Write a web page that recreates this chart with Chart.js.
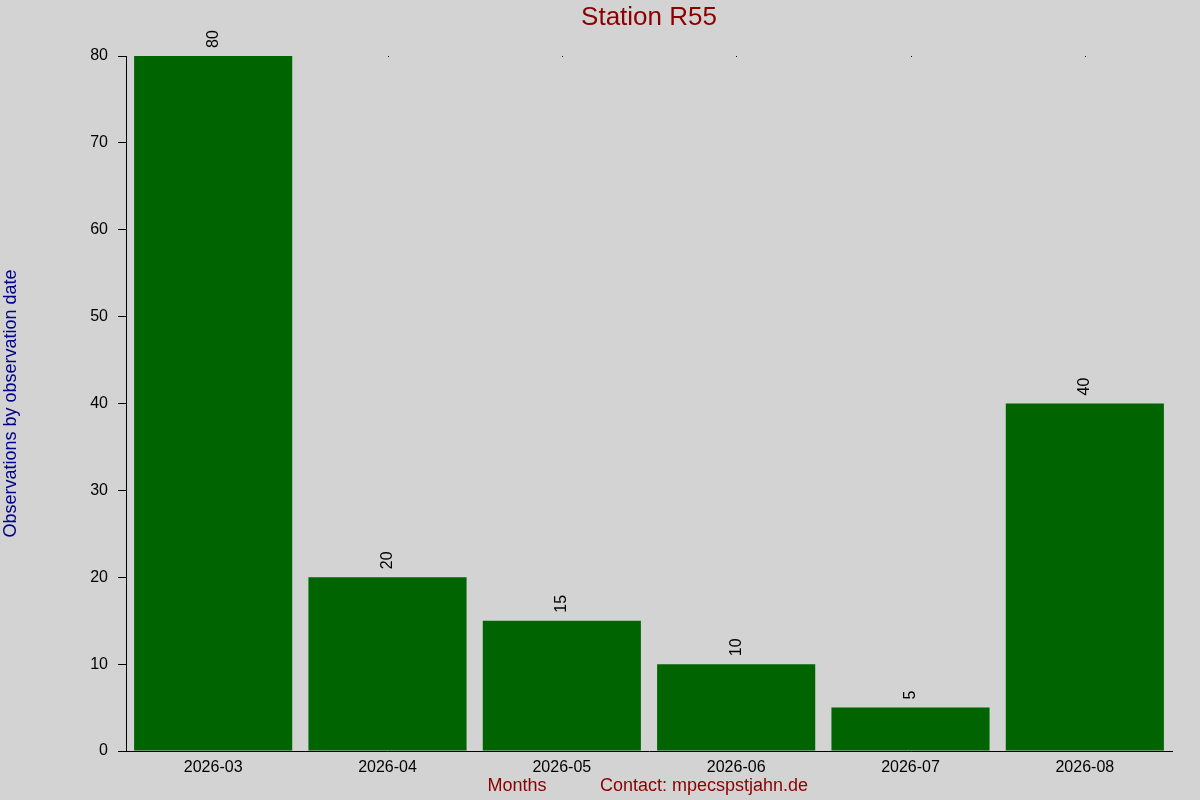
<!DOCTYPE html>
<html>
<head>
<meta charset="utf-8">
<script src="https://cdn.jsdelivr.net/npm/chart.js@4.4.0/dist/chart.umd.min.js"></script>
<style>
  html, body { margin: 0; padding: 0; background: #d3d3d3; }
  #wrap { width: 1200px; height: 800px; }
</style>
</head>
<body>
<div id="wrap"><canvas id="obsChart"></canvas></div>
<script>
var months = ['2026-03', '2026-04', '2026-05', '2026-06', '2026-07', '2026-08'];
var observations = [80, 20, 15, 10, 5, 40];
var yTicks = [0, 10, 20, 30, 40, 50, 60, 70, 80];

var chartTitle = 'Station R55';
var yTitle = 'Observations by observation date';
var xTitle = 'Months';
var contactText = 'Contact: mpecspstjahn.de';

var FONT = '"Liberation Sans", Arial, sans-serif';

// background, titles, value labels and the little top dots
var decorations = {
  id: 'decorations',
  beforeDraw: function(chart) {
    var c = chart.ctx;
    c.save();
    c.fillStyle = '#d3d3d3';
    c.fillRect(0, 0, chart.width, chart.height);
    c.restore();
  },
  beforeDatasetsDraw: function(chart) {
    var c = chart.ctx;
    var xs = chart.scales.x;
    c.save();
    c.fillStyle = '#000';
    months.forEach(function(m, i) {
      c.fillRect(Math.round(xs.getPixelForValue(i)), chart.chartArea.top, 1, 1);
    });
    c.restore();
  },
  afterDraw: function(chart) {
    var c = chart.ctx;
    var area = chart.chartArea;
    c.save();

    c.fillStyle = '#8b0000';
    c.font = '26px ' + FONT;
    c.textAlign = 'center';
    c.textBaseline = 'middle';
    c.fillText(chartTitle, (area.left + area.right) / 2, 18);

    c.font = '18px ' + FONT;
    c.fillText(xTitle, 517, 786);
    c.fillText(contactText, 704, 786);

    c.save();
    c.fillStyle = '#00008b';
    c.translate(11, (area.top + area.bottom) / 2);
    c.rotate(-Math.PI / 2);
    c.fillText(yTitle, 0, 0);
    c.restore();

    // rotated value labels
    var meta = chart.getDatasetMeta(0);
    c.font = '16px ' + FONT;
    c.fillStyle = '#000';
    c.textAlign = 'left';
    c.textBaseline = 'middle';
    meta.data.forEach(function(bar, i) {
      c.save();
      c.translate(bar.x, bar.y - 8);
      c.rotate(-Math.PI / 2);
      c.fillText(String(observations[i]), 0, 0);
      c.restore();
    });
    c.restore();
  }
};

var ctx = document.getElementById('obsChart').getContext('2d');
var chart = new Chart(ctx, {
  type: 'bar',
  data: {
    labels: months,
    datasets: [{
      label: 'Observations',
      data: observations,
      backgroundColor: '#006400',
      borderWidth: 0,
      inflateAmount: 0,
      categoryPercentage: 0.907,
      barPercentage: 1.0
    }]
  },
  options: {
    responsive: true,
    maintainAspectRatio: false,
    animation: false,
    devicePixelRatio: 1,
    layout: { padding: { top: 56, right: 28, left: 0, bottom: 0 } },
    plugins: {
      legend: { display: false },
      title: { display: false },
      tooltip: { enabled: false }
    },
    scales: {
      x: {
        grid: { display: true, drawOnChartArea: false, drawTicks: false },
        border: { display: true, color: '#000', width: 1 },
        ticks: { color: '#000', font: { size: 16, family: FONT }, padding: 7, maxRotation: 0 },
        afterFit: function(s) { s.height = 49; }
      },
      y: {
        min: 0,
        max: 80,
        afterBuildTicks: function(s) { s.ticks = yTicks.map(function(v) { return { value: v }; }); },
        grid: { display: true, drawOnChartArea: false, drawTicks: true, tickLength: 8, color: '#000' },
        border: { display: true, color: '#000', width: 1 },
        ticks: { color: '#000', font: { size: 16, family: FONT }, padding: 10 },
        afterFit: function(s) { s.width = 126; }
      }
    }
  },
  plugins: [decorations]
});
</script>
</body>
</html>
